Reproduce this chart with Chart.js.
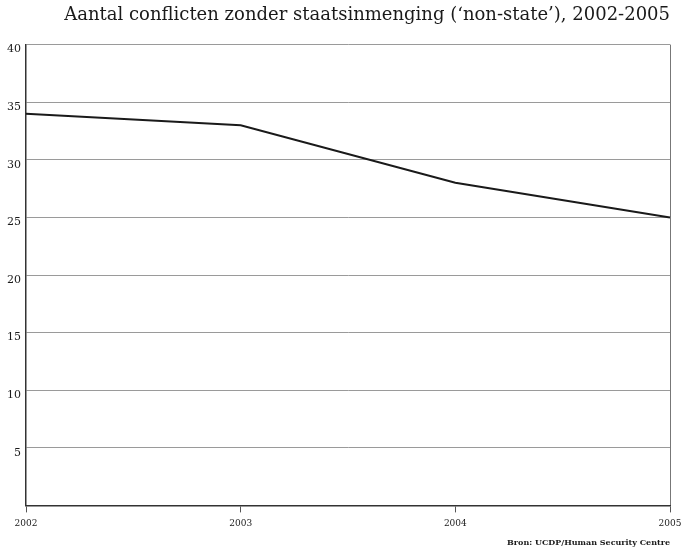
<!DOCTYPE html>
<html lang="nl">
<head>
    <meta charset="UTF-8">
    <title>Aantal conflicten zonder staatsinmenging</title>
    <script src="https://cdn.jsdelivr.net/npm/chart.js"></script>
    <style>
        body {
            margin: 0;
            padding: 0;
            background-color: #ffffff;
        }

        .wrap {
            position: relative;
            width: 684px;
            height: 552px;
        }
    </style>
</head>
<body>
    <div class="wrap">
        <canvas id="conflictChart" width="684" height="552"></canvas>
    </div>
    <script>
        // data
        const years = ['2002', '2003', '2004', '2005'];
        const conflicts = [34, 33, 28, 25];
        const yTicks = [0, 5, 10, 15, 20, 25, 30, 35, 40];

        const titleText = 'Aantal conflicten zonder staatsinmenging (\u2018non-state\u2019), 2002-2005';
        const sourceText = 'Bron: UCDP/Human Security Centre';

        const serif = "'DejaVu Serif', 'Liberation Serif', serif";

        const ctx = document.getElementById('conflictChart').getContext('2d');
        const chart = new Chart(ctx, {
            type: 'line',
            data: {
                labels: years,
                datasets: [{
                    label: 'Aantal conflicten',
                    data: conflicts,
                    borderColor: '#1a1a1a',
                    borderWidth: 2,
                    pointRadius: 0,
                    tension: 0,
                    fill: false
                }]
            },
            options: {
                responsive: false,
                animation: false,
                layout: {
                    padding: { top: 0, right: 14, bottom: 0, left: 0 }
                },
                plugins: {
                    legend: { display: false },
                    tooltip: { enabled: false },
                    title: {
                        display: true,
                        text: titleText,
                        align: 'end',
                        color: '#1a1a1a',
                        font: { family: serif, size: 18, weight: 'normal' },
                        padding: { top: 5, bottom: 18 }
                    },
                    subtitle: {
                        display: true,
                        text: sourceText,
                        position: 'bottom',
                        align: 'end',
                        color: '#1a1a1a',
                        font: { family: serif, size: 8, weight: 'bold' },
                        padding: { top: 4, bottom: 4 }
                    }
                },
                scales: {
                    x: {
                        type: 'category',
                        offset: false,
                        grid: {
                            drawOnChartArea: true,
                            color: (c) => c.index === years.length - 1 ? '#777777' : 'rgba(0,0,0,0)',
                            tickColor: '#555555',
                            tickLength: 7
                        },
                        border: { display: true, color: '#333333', width: 1.5 },
                        ticks: {
                            color: '#1a1a1a',
                            font: { family: serif, size: 9 },
                            maxRotation: 0,
                            autoSkip: false,
                            padding: 6
                        },
                        afterFit: (scale) => {
                            scale.height = 29;
                            scale.paddingLeft = 0;
                            scale.paddingRight = 0;
                        }
                    },
                    y: {
                        min: 0,
                        max: 40,
                        afterBuildTicks: (scale) => {
                            scale.ticks = yTicks.map(v => ({ value: v }));
                        },
                        grid: {
                            color: '#9a9a9a',
                            drawTicks: false
                        },
                        border: { display: true, color: '#333333', width: 1.5 },
                        ticks: {
                            color: '#1a1a1a',
                            font: { family: serif, size: 11 },
                            padding: 5,
                            labelOffset: 5,
                            callback: (v) => v === 0 ? '' : v
                        },
                        afterFit: (scale) => { scale.width = 26; }
                    }
                }
            }
        });
    </script>
</body>
</html>
